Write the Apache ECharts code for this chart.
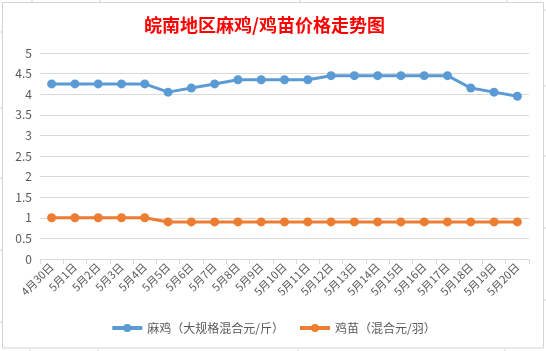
<!DOCTYPE html>
<html>
<head>
<meta charset="utf-8">
<script src="https://cdn.jsdelivr.net/npm/echarts@6/dist/echarts.min.js"></script>
<style>
  html, body { margin: 0; padding: 0; background: #ffffff; }
  #main { width: 546px; height: 351px; }
</style>
</head>
<body>
<div id="main"></div>
<script>
// dates along the x axis
var days = ['4月30日', '5月1日', '5月2日', '5月3日', '5月4日', '5月5日', '5月6日',
    '5月7日', '5月8日', '5月9日', '5月10日', '5月11日', '5月12日', '5月13日',
    '5月14日', '5月15日', '5月16日', '5月17日', '5月18日', '5月19日', '5月20日'];
// 麻鸡 price
var majiPrice = [4.25, 4.25, 4.25, 4.25, 4.25, 4.05, 4.15, 4.25, 4.35, 4.35, 4.35,
    4.35, 4.45, 4.45, 4.45, 4.45, 4.45, 4.45, 4.15, 4.05, 3.95];
// 鸡苗 price
var jimiaoPrice = [1.0, 1.0, 1.0, 1.0, 1.0, 0.9, 0.9, 0.9, 0.9, 0.9, 0.9,
    0.9, 0.9, 0.9, 0.9, 0.9, 0.9, 0.9, 0.9, 0.9, 0.9];
var seriesNames = ['麻鸡（大规格混合元/斤）', '鸡苗（混合元/羽）'];

var font = '"Microsoft YaHei", "Noto Sans CJK SC", sans-serif';
var myChart = echarts.init(document.getElementById('main'));

// little spreadsheet cell marks round the chart frame
var cellMarks = [];
[32, 108, 178, 250, 322].forEach(function (y) {
    cellMarks.push({ type: 'line', shape: { x1: 0, y1: y, x2: 2, y2: y }, style: { stroke: '#d4d4d4', lineWidth: 1 } });
    cellMarks.push({ type: 'line', shape: { x1: 544, y1: y - 22, x2: 546, y2: y - 22 }, style: { stroke: '#d4d4d4', lineWidth: 1 } });
});
[32, 100, 300, 507].forEach(function (x) {
    cellMarks.push({ type: 'line', shape: { x1: x, y1: 0, x2: x, y2: 2 }, style: { stroke: '#d4d4d4', lineWidth: 1 } });
    cellMarks.push({ type: 'line', shape: { x1: x - 2, y1: 349, x2: x - 2, y2: 351 }, style: { stroke: '#d4d4d4', lineWidth: 1 } });
});
cellMarks.push({
    type: 'rect',
    shape: { x: 2.5, y: 2.5, width: 541, height: 345.5 },
    style: { fill: 'none', stroke: '#d4d4d4', lineWidth: 1 }
});

var option = {
    animation: false,
    backgroundColor: '#ffffff',
    title: {
        text: '皖南地区麻鸡/鸡苗价格走势图',
        left: 139,
        top: 11,
        textStyle: {
            color: '#ff0000',
            fontFamily: font,
            fontWeight: 'bold',
            fontSize: 18
        }
    },
    color: ['#5b9bd5', '#ed7d31'],
    legend: {
        bottom: 12,
        left: 'center',
        itemWidth: 30,
        itemHeight: 10,
        itemGap: 14,
        lineStyle: { width: 4 },
        textStyle: { color: '#595959', fontFamily: font, fontSize: 12 },
        data: seriesNames
    },
    grid: {
        left: 40,
        right: 17,
        top: 53,
        bottom: 92
    },
    xAxis: {
        type: 'category',
        data: days,
        boundaryGap: true,
        axisLine: { lineStyle: { color: '#d9d9d9' } },
        axisTick: { show: true, length: 5, lineStyle: { color: '#d9d9d9' } },
        axisLabel: {
            rotate: 45,
            interval: 0,
            color: '#595959',
            fontFamily: font,
            fontSize: 11,
            margin: 6
        }
    },
    yAxis: {
        type: 'value',
        min: 0,
        max: 5,
        interval: 0.5,
        axisLine: { show: false },
        axisTick: { show: false },
        axisLabel: { color: '#595959', fontFamily: font, fontSize: 12, margin: 8 },
        splitLine: { lineStyle: { color: '#d9d9d9' } }
    },
    series: [
        {
            name: seriesNames[0],
            type: 'line',
            data: majiPrice,
            symbol: 'circle',
            symbolSize: 9,
            lineStyle: { width: 3 },
            silent: true
        },
        {
            name: seriesNames[1],
            type: 'line',
            data: jimiaoPrice,
            symbol: 'circle',
            symbolSize: 9,
            lineStyle: { width: 3 },
            silent: true
        }
    ],
    graphic: cellMarks
};

myChart.setOption(option);
</script>
</body>
</html>
